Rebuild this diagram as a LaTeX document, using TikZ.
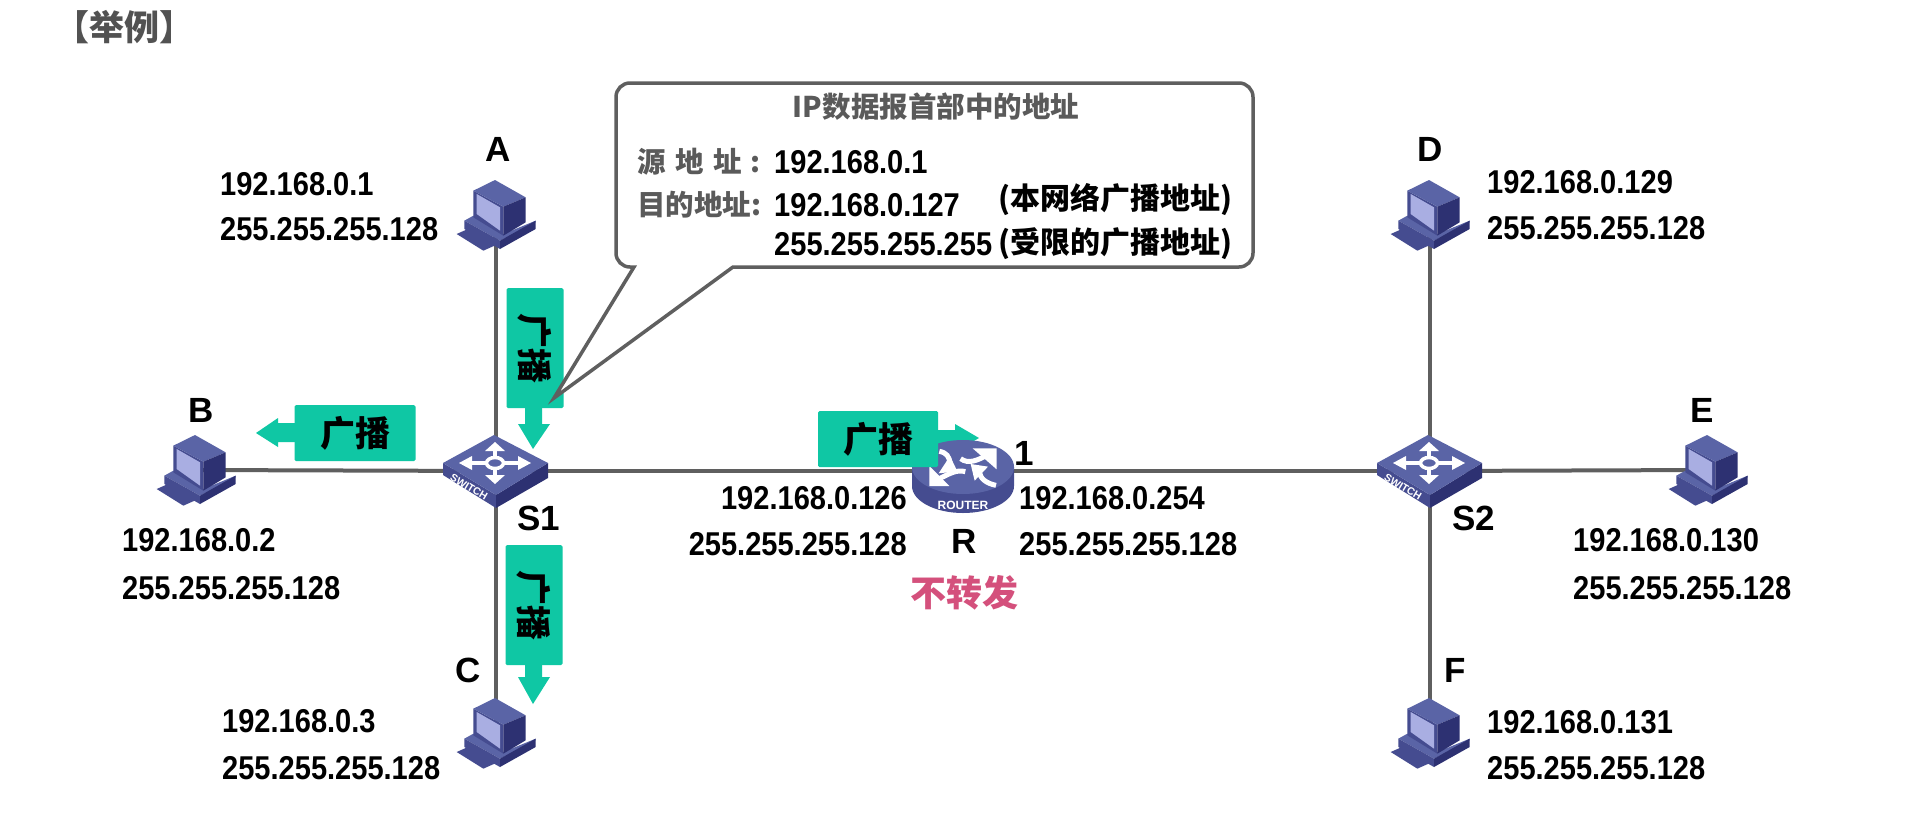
\documentclass[tikz,border=0pt]{standalone}
\usepackage{fontspec}
\setmainfont{Liberation Sans}[FakeStretch=0.88]
\newfontfamily\ltr{Liberation Sans}
\newfontfamily\cjk{Noto Sans CJK SC}
\usetikzlibrary{arrows.meta}
\definecolor{grn}{HTML}{0FC7A4}
\definecolor{lnk}{HTML}{5F5F5F}
\definecolor{cgray}{HTML}{5A5A5A}
\definecolor{dtop}{HTML}{5A64A6}
\definecolor{dleft}{HTML}{454C90}
\definecolor{dright}{HTML}{2D3172}
\definecolor{dscr}{HTML}{A9AEE2}
\definecolor{pinktxt}{HTML}{D4507C}
\newcommand{\fs}[1]{\fontsize{#1}{#1}\selectfont}
\tikzset{
 link/.style={draw=lnk,line width=4pt},
 ip/.style={font=\bfseries\fs{33},inner sep=0pt,anchor=west},
 ipr/.style={font=\bfseries\fs{33},inner sep=0pt,anchor=east},
 letter/.style={font=\ltr\bfseries\fs{35},inner sep=0pt},
 gbox/.style={fill=grn,rounded corners=1.5pt,inner sep=0pt,font=\cjk\bfseries\fs{35}},
 cgtext/.style={font=\cjk\bfseries\fs{28.5},text=cgray,inner sep=0pt,anchor=west},
 cbtext/.style={font=\cjk\bfseries\fs{30},inner sep=0pt,anchor=west},
}
\newcommand{\pcicon}[2]{%
 \begin{scope}[shift={(#1,#2)},x=0.3333pt,y=-0.3333pt]
  \fill[dleft] (-118,57) -- (-73,37) -- (7,87) -- (-38,107) -- cycle;
  \fill[dtop] (-95,17) -- (-68,2) -- (22,57) -- (119,17) -- (119,22) -- (12,77) -- cycle;
  \fill[dleft] (-95,17) -- (12,77) -- (12,102) -- (-95,42) -- cycle;
  \fill[dright] (12,77) -- (119,17) -- (119,42) -- (12,102) -- cycle;
  \fill[dleft] (-68,-73) -- (22,-25) -- (22,62) -- (-68,7) -- cycle;
  \fill[dscr] (-58,-63) -- (12,-23) -- (12,47) -- (-58,-3) -- cycle;
  \fill[dtop] (-68,-73) -- (-3,-105) -- (89,-53) -- (22,-25) -- cycle;
  \fill[dright] (22,-25) -- (89,-53) -- (89,22) -- (22,62) -- cycle;
 \end{scope}}
\newcommand{\switchicon}[2]{%
 \begin{scope}[shift={(#1,#2)}]
  \fill[dleft] (-53,-8) -- (0,24) -- (0,37) -- (-53,4) -- cycle;
  \fill[dright] (52,-8) -- (0,24) -- (0,37) -- (52,7) -- cycle;
  \fill[dtop] (-53,-8) -- (-2,-36) -- (52,-8) -- (0,24) -- cycle;
  \draw[white,line width=3.5pt] (-1,-8) ellipse (8.5pt and 5.5pt);
  \fill[white] (-37,-8) -- (-24,-15) -- (-24,-1) -- cycle;
  \fill[white] (35,-8) -- (22,-15) -- (22,-1) -- cycle;
  \fill[white] (-1,-29) -- (-11,-20) -- (9,-20) -- cycle;
  \fill[white] (-1,13) -- (-11,4) -- (9,4) -- cycle;
  \draw[white,line width=3.5pt] (-26,-8) -- (-9,-8) (7,-8) -- (24,-8) (-1,-22) -- (-1,-13) (-1,-3) -- (-1,6);
  \node[text=white,rotate=-31,inner sep=0pt,font=\ltr\bfseries\fs{10.5}] at (-27,16) {SWITCH};
 \end{scope}}
\begin{document}
\begin{tikzpicture}[x=1pt,y=-1pt]
\useasboundingbox (0,0) rectangle (1920,812);
\fill[white] (0,0) rectangle (1920,812);
% anchors of the network
\coordinate (pcA) at (496,215);
\coordinate (pcB) at (196,470);
\coordinate (pcC) at (496,733);
\coordinate (pcD) at (1430,215);
\coordinate (pcE) at (1708,470);
\coordinate (pcF) at (1430,733);
\coordinate (sw1) at (496,471);
\coordinate (sw2) at (1430,471);
\coordinate (rt) at (963,471);
\draw[link] (pcA) -- (sw1);
\draw[link] (sw1) -- (pcC);
\draw[link] (pcB) -- (sw1);
\draw[link] (sw1) -- (rt);
\draw[link] (rt) -- (sw2);
\draw[link] (sw2) -- (pcD);
\draw[link] (sw2) -- (pcF);
\draw[link] (sw2) -- (pcE);
\pcicon{496}{215}
\pcicon{196}{470}
\pcicon{496}{733}
\pcicon{1430}{215}
\pcicon{1708}{470}
\pcicon{1430}{733}
\switchicon{496}{471}
\switchicon{1430}{471}
% arrow to the router (under it)
\fill[grn] (930,430) -- (955,430) -- (955,424) -- (979,438) -- (955,452) -- (955,448) -- (930,448) -- cycle;
% router
\fill[dleft] (912,467) -- (912,486) arc[start angle=180,end angle=360,x radius=51pt,y radius=27pt] -- (1014,467) -- cycle;
\fill[dtop] (963,467) ellipse (51pt and 27pt);
\begin{scope}[shift={(900,430)},x=0.3333pt,y=-0.3333pt]
 \fill[white] (218,55) -- (290,55) -- (290,118) -- cycle;
 \fill[white] (148,168) -- (88,168) -- (88,108) -- cycle;
 \fill[white] (116,130) -- (172,124) -- (150,78) -- cycle;
 \fill[white] (212,102) -- (264,110) -- (224,152) -- cycle;
 \draw[white,line width=5pt] (182,86) .. controls (205,104) and (235,90) .. (262,75);
 \draw[white,line width=5pt] (196,125) .. controls (170,118) and (150,130) .. (110,150);
 \draw[white,line width=5pt] (118,64) .. controls (140,68) and (148,80) .. (150,100);
 \draw[white,line width=5pt] (288,166) .. controls (258,160) and (240,145) .. (238,125);
\end{scope}
\node[text=white,inner sep=0pt,font=\ltr\bfseries\fs{12}] (rl) at (963,505) {ROUTER};
% broadcast arrows
\fill[grn] (525,400) -- (542,400) -- (542,424) -- (550,424) -- (533,449) -- (518,424) -- (525,424) -- cycle;
\node[gbox,minimum width=57pt,minimum height=120pt] (b1) at (535,348) {\rotatebox{-90}{广播}};
\fill[grn] (525,660) -- (542,660) -- (542,677) -- (550,677) -- (533,704) -- (518,677) -- (525,677) -- cycle;
\node[gbox,minimum width=57pt,minimum height=120pt] (b2) at (534,605) {\rotatebox{-90}{广播}};
\fill[grn] (300,423) -- (278,423) -- (278,418) -- (256,433) -- (278,447) -- (278,442) -- (300,442) -- cycle;
\node[gbox,minimum width=121pt,minimum height=56pt] (b3) at (355,433) {广播};
\node[gbox,minimum width=120pt,minimum height=56pt] (b4) at (878,439) {广播};
% callout
\draw[draw=lnk,line width=3.5pt,fill=white,line join=miter]
  (554,398) -- (733,267) [rounded corners=14pt] -- (1253,267) -- (1253,83) -- (616,83) -- (616,267) [sharp corners] -- (634,267) -- cycle;
\node[font=\cjk\bfseries\fs{28.5},text=cgray,inner sep=0pt] (ct) at (936,107) {IP数据报首部中的地址};
\node[cgtext] (c1) at (637,162) {源\hspace{0.33em}地\hspace{0.33em}址\hspace{0.33em}:};
\node[cgtext] (c2) at (637,205) {目的地址:};
\node[ip] (c3) at (774,162) {192.168.0.1};
\node[ip] (c4) at (774,205) {192.168.0.127};
\node[ip] (c5) at (774,244) {255.255.255.255};
\node[cbtext] (c6) at (998,200) {(本网络广播地址)};
\node[cbtext] (c7) at (998,244) {(受限的广播地址)};
% letters
\node[letter] (lA) at (498,149) {A};
\node[letter] (lB) at (201,410) {B};
\node[letter] (lC) at (468,670) {C};
\node[letter] (lD) at (1430,149) {D};
\node[letter] (lE) at (1702,410) {E};
\node[letter] (lF) at (1455,670) {F};
\node[letter] (lS1) at (539,518) {S1};
\node[letter] (lS2) at (1474,518) {S2};
\node[letter] (lR) at (964,541) {R};
\node[letter] (l1) at (1024,453) {1};
% addresses
\node[ip] (a1) at (220,184) {192.168.0.1};
\node[ip] (a2) at (220,229) {255.255.255.128};
\node[ip] (b5) at (122,540) {192.168.0.2};
\node[ip] (b6) at (122,588) {255.255.255.128};
\node[ip] (c8) at (222,721) {192.168.0.3};
\node[ip] (c9) at (222,768) {255.255.255.128};
\node[ipr] (r1) at (907,498) {192.168.0.126};
\node[ipr] (r2) at (907,544) {255.255.255.128};
\node[ip] (r3) at (1019,498) {192.168.0.254};
\node[ip] (r4) at (1019,544) {255.255.255.128};
\node[ip] (d1) at (1487,182) {192.168.0.129};
\node[ip] (d2) at (1487,228) {255.255.255.128};
\node[ip] (e1) at (1573,540) {192.168.0.130};
\node[ip] (e2) at (1573,588) {255.255.255.128};
\node[ip] (f1) at (1487,722) {192.168.0.131};
\node[ip] (f2) at (1487,768) {255.255.255.128};
% others
\node[font=\cjk\bfseries\fs{36},text=pinktxt,inner sep=0pt] (nf) at (964,593) {不转发};
\node[font=\cjk\bfseries\fs{35},text=black!68,inner sep=0pt] (tt) at (124,27) {【举例】};
\end{tikzpicture}
\end{document}
